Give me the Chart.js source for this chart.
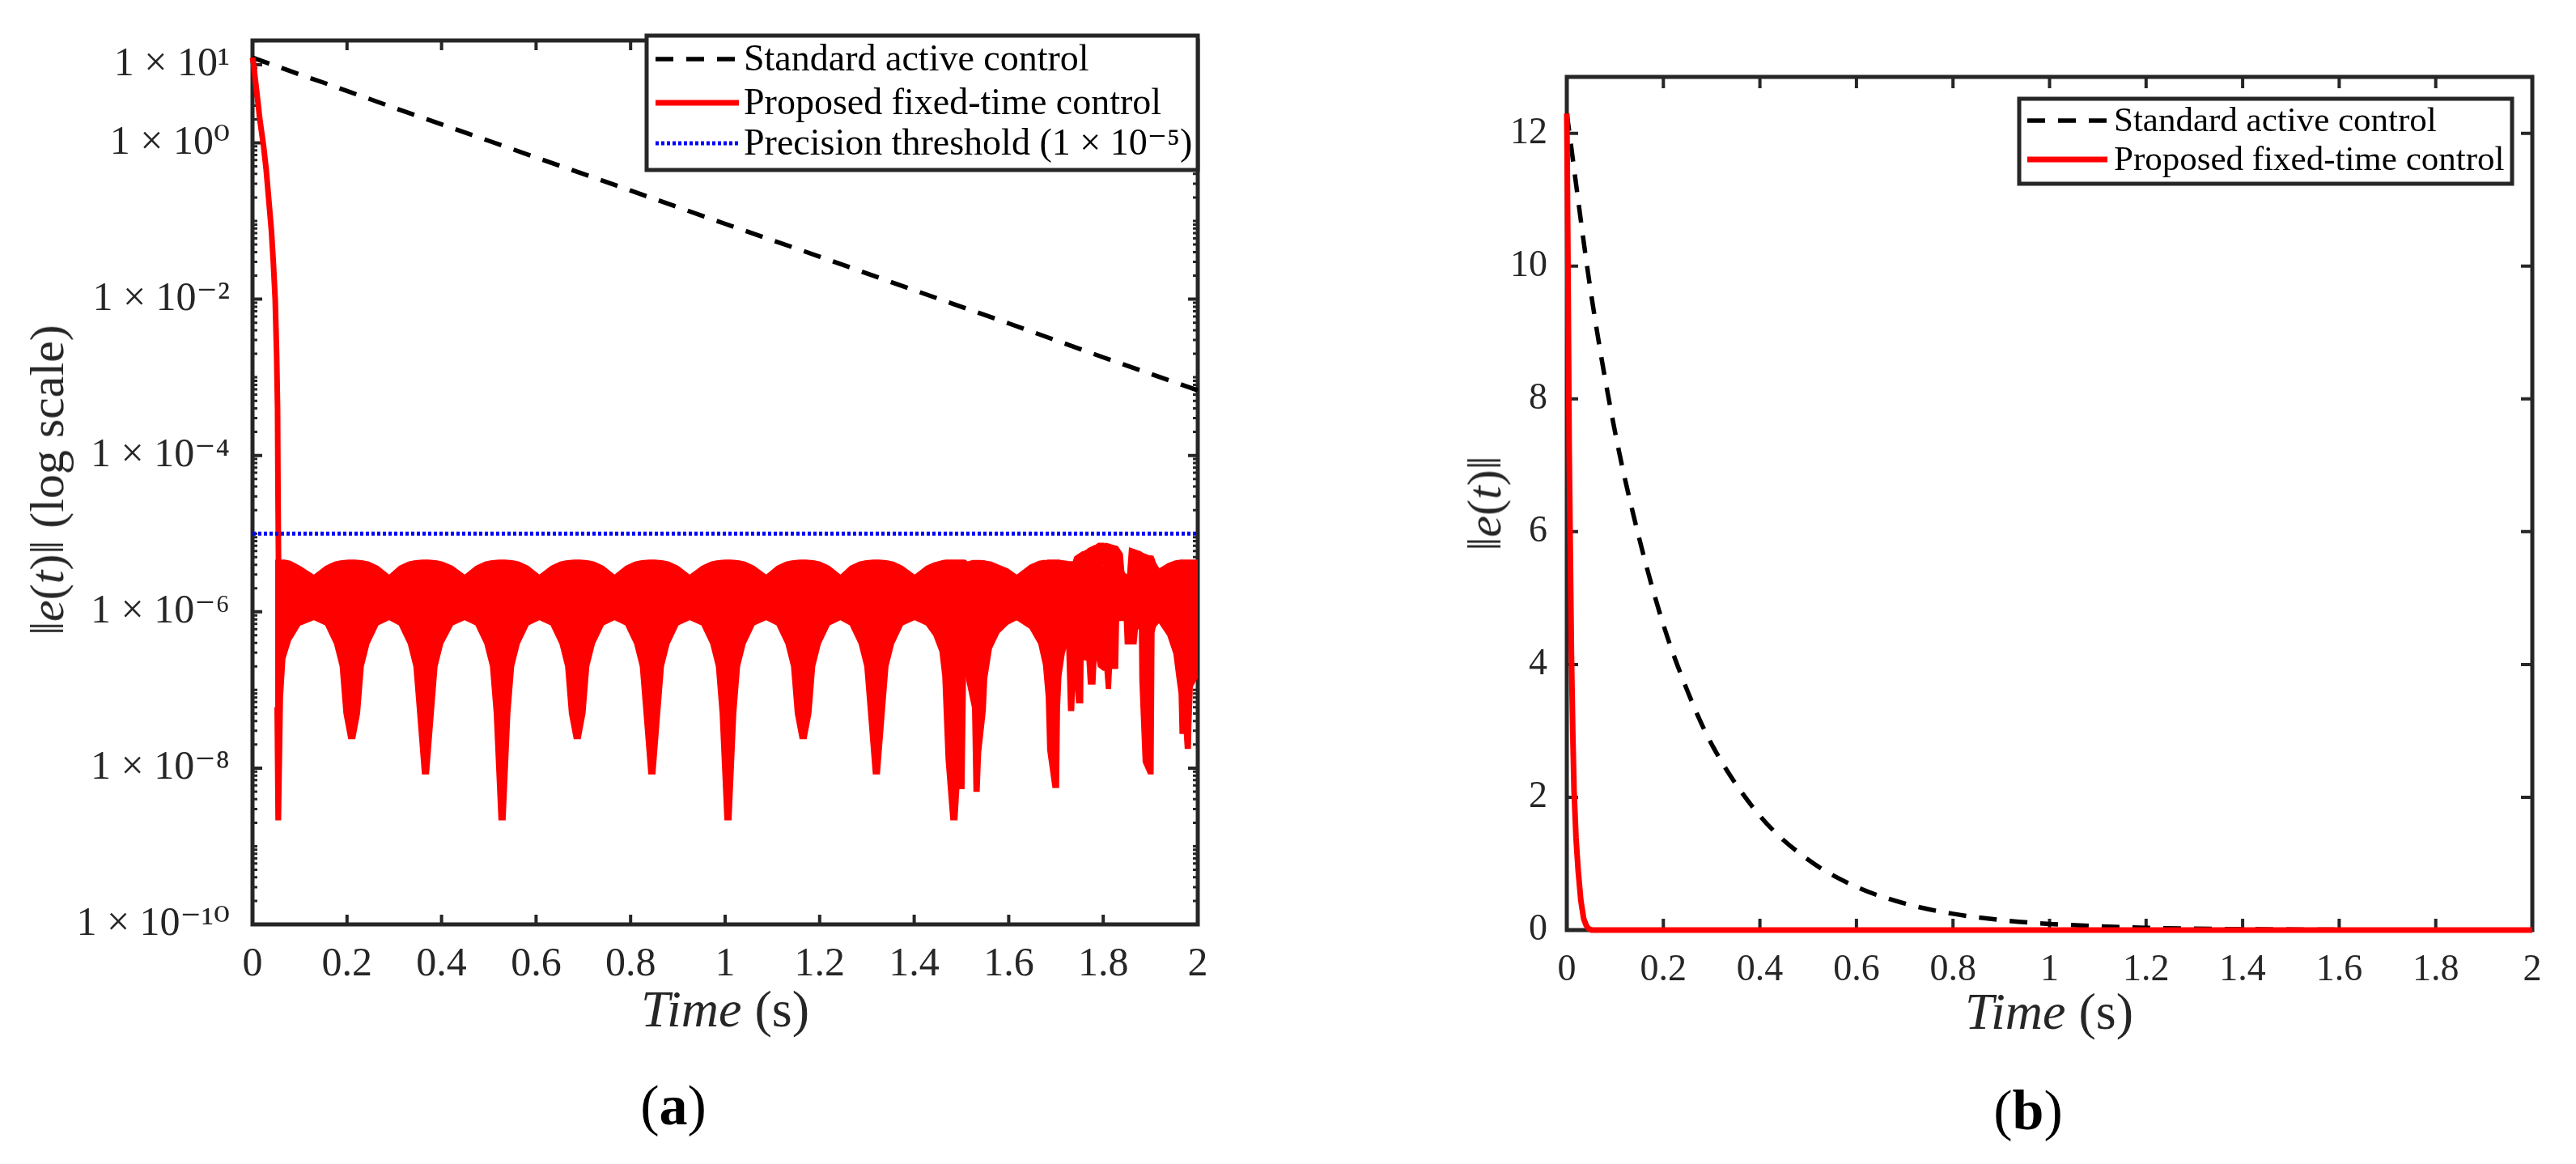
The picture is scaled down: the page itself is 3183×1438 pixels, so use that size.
<!DOCTYPE html>
<html>
<head>
<meta charset="utf-8">
<script src="https://cdn.jsdelivr.net/npm/chart.js@4.4.1/dist/chart.umd.min.js"></script>
<style>
  body { margin: 0; background: #fff; }
  #page { position: relative; width: 3183px; height: 1438px; overflow: hidden; background: #fff; }
  canvas { position: absolute; top: 0; }
  .lbl { position: absolute; transform: translate(-50%, -50%); font-family: 'Liberation Serif', 'DejaVu Serif', serif; color: #262626; white-space: nowrap; line-height: 1; }
  .rot { transform: translate(-50%, -50%) rotate(-90deg); }
  .cap { color: #000; font-size: 70px; }
</style>
</head>
<body>
<div id="page">
  <canvas id="left" width="1600" height="1438" style="left:0"></canvas>
  <canvas id="right" width="1583" height="1438" style="left:1600px"></canvas>

  <div class="lbl rot" style="left:58px; top:593px; font-size:60px;">‖<i>e</i>(<i>t</i>)‖ (log scale)</div>
  <div class="lbl" style="left:896px; top:1247px; font-size:64px;"><i>Time</i> (s)</div>
  <div class="lbl cap" style="left:832px; top:1366px;">(<b>a</b>)</div>

  <div class="lbl rot" style="left:1834px; top:622px; font-size:60px;">‖<i>e</i>(<i>t</i>)‖</div>
  <div class="lbl" style="left:2532px; top:1250px; font-size:64px;"><i>Time</i> (s)</div>
  <div class="lbl cap" style="left:2506px; top:1372px;">(<b>b</b>)</div>
</div>
<script>
// tick values and labels
const xTickValues = [0, 0.2, 0.4, 0.6, 0.8, 1, 1.2, 1.4, 1.6, 1.8, 2];
const xTickLabels = ['0', '0.2', '0.4', '0.6', '0.8', '1', '1.2', '1.4', '1.6', '1.8', '2'];
const logTickValues = [1e1, 1e0, 1e-2, 1e-4, 1e-6, 1e-8, 1e-10];
const logTickLabels = ['1 × 10¹', '1 × 10⁰', '1 × 10⁻²', '1 × 10⁻⁴', '1 × 10⁻⁶', '1 × 10⁻⁸', '1 × 10⁻¹⁰'];
const linTickValues = [0, 2, 4, 6, 8, 10, 12];
const linTickLabels = ['0', '2', '4', '6', '8', '10', '12'];

// standard active control
const timeStd = [0, 0.05, 0.1, 0.15, 0.2, 0.25, 0.3, 0.4, 0.5, 0.6, 0.7, 0.8, 0.9, 1.0, 1.2, 1.4, 1.6, 1.8, 2.0];
const errStd = [12.3, 9.6, 7.5, 5.9, 4.6, 3.6, 2.8, 1.72, 1.06, 0.65, 0.40, 0.245, 0.15, 0.092, 0.035, 0.013, 0.0049, 0.0018, 0.00068];

// proposed fixed-time control, initial drop
const timeDecay = [0, 0.002, 0.005, 0.0095, 0.0123, 0.015, 0.019, 0.0235, 0.029, 0.035, 0.04, 0.044, 0.048, 0.051, 0.053, 0.054, 0.055];
const errDecay = [12.3, 10.5, 7.2, 4.2, 3.0, 2.1, 1.4, 0.9, 0.45, 0.17, 0.075, 0.03, 0.01, 0.002, 4e-4, 3e-5, 4.5e-6];

// proposed fixed-time control, residual chattering band (upper / lower envelope)
const timeBand = [
  0.048, 0.050, 0.059, 0.063, 0.068, 0.080, 0.100, 0.130,
  0.155, 0.174, 0.186, 0.194, 0.204, 0.216, 0.226, 0.234, 0.246, 0.265, 0.289,
  0.311, 0.330, 0.342, 0.350, 0.360, 0.372, 0.382, 0.390, 0.402, 0.423, 0.449,
  0.473, 0.492, 0.504, 0.512, 0.522, 0.534, 0.544, 0.552, 0.564, 0.583, 0.607,
  0.632, 0.651, 0.663, 0.671, 0.681, 0.693, 0.703, 0.711, 0.723, 0.742, 0.766,
  0.790, 0.809, 0.821, 0.829, 0.839, 0.851, 0.861, 0.869, 0.881, 0.900, 0.925,
  0.951, 0.970, 0.982, 0.990, 1.000, 1.012, 1.022, 1.030, 1.042, 1.061, 1.087,
  1.110, 1.129, 1.141, 1.149, 1.159, 1.171, 1.181, 1.189, 1.201, 1.220, 1.244,
  1.265, 1.284, 1.296, 1.304, 1.314, 1.326, 1.336, 1.344, 1.356, 1.375, 1.401,
  1.426, 1.442, 1.455, 1.461, 1.468, 1.478, 1.490, 1.494, 1.505, 1.509, 1.512, 1.524, 1.527, 1.537, 1.540, 1.550, 1.553, 1.563, 1.579, 1.598, 1.617,
  1.645, 1.664, 1.674, 1.680, 1.683, 1.694, 1.705, 1.707, 1.710, 1.717, 1.723, 1.727, 1.737, 1.740, 1.744, 1.756, 1.758, 1.760, 1.766, 1.769,
  1.782, 1.785, 1.790, 1.800, 1.801, 1.804, 1.807, 1.815, 1.817, 1.830, 1.832, 1.840, 1.843, 1.845, 1.847, 1.852, 1.856, 1.869, 1.872, 1.877,
  1.878, 1.885, 1.896, 1.905, 1.907, 1.910, 1.918,
  1.937, 1.950, 1.956, 1.961, 1.963, 1.972, 1.974, 1.984, 1.985, 1.988, 2.000
];
const bandHigh = [
  4.5e-6, 4.56e-6, 4.56e-6, 4.56e-6, 4.56e-6, 4.4e-6, 3.8e-6, 2.9e-6,
  3.8e-6, 4.3e-6, 4.45e-6, 4.5e-6, 4.56e-6, 4.56e-6, 4.5e-6, 4.45e-6, 4.3e-6, 3.8e-6, 2.9e-6,
  3.8e-6, 4.3e-6, 4.45e-6, 4.5e-6, 4.56e-6, 4.56e-6, 4.5e-6, 4.45e-6, 4.3e-6, 3.8e-6, 2.9e-6,
  3.8e-6, 4.3e-6, 4.45e-6, 4.5e-6, 4.56e-6, 4.56e-6, 4.5e-6, 4.45e-6, 4.3e-6, 3.8e-6, 2.9e-6,
  3.8e-6, 4.3e-6, 4.45e-6, 4.5e-6, 4.56e-6, 4.56e-6, 4.5e-6, 4.45e-6, 4.3e-6, 3.8e-6, 2.9e-6,
  3.8e-6, 4.3e-6, 4.45e-6, 4.5e-6, 4.56e-6, 4.56e-6, 4.5e-6, 4.45e-6, 4.3e-6, 3.8e-6, 2.9e-6,
  3.8e-6, 4.3e-6, 4.45e-6, 4.5e-6, 4.56e-6, 4.56e-6, 4.5e-6, 4.45e-6, 4.3e-6, 3.8e-6, 2.9e-6,
  3.8e-6, 4.3e-6, 4.45e-6, 4.5e-6, 4.56e-6, 4.56e-6, 4.5e-6, 4.45e-6, 4.3e-6, 3.8e-6, 2.9e-6,
  3.8e-6, 4.3e-6, 4.45e-6, 4.5e-6, 4.56e-6, 4.56e-6, 4.5e-6, 4.45e-6, 4.3e-6, 3.8e-6, 2.9e-6,
  3.8e-6, 4.2e-6, 4.4e-6, 4.5e-6, 4.56e-6, 4.56e-6, 4.56e-6, 4.56e-6, 4.56e-6, 4.5e-6, 4.3e-6, 4.5e-6, 4.5e-6, 4.5e-6, 4.5e-6, 4.45e-6, 4.4e-6, 4.3e-6, 3.9e-6, 3.5e-6, 2.9e-6,
  3.9e-6, 4.4e-6, 4.5e-6, 4.5e-6, 4.55e-6, 4.56e-6, 4.56e-6, 4.56e-6, 4.5e-6, 4.45e-6, 4.4e-6, 4.35e-6, 4.35e-6, 5.0e-6, 5.2e-6, 5.8e-6, 5.8e-6, 5.9e-6, 6.2e-6, 6.4e-6,
  7.0e-6, 7.1e-6, 7.45e-6, 7.45e-6, 3.9e-6, 7.45e-6, 7.4e-6, 7.2e-6, 7.1e-6, 6.8e-6, 6.5e-6, 5.5e-6, 3.3e-6, 3.1e-6, 3.0e-6, 3.0e-6, 6.5e-6, 6.1e-6, 6.0e-6, 5.9e-6,
  5.9e-6, 5.5e-6, 5.2e-6, 5.1e-6, 4.8e-6, 4.2e-6, 3.5e-6,
  4.1e-6, 4.4e-6, 4.5e-6, 4.5e-6, 4.55e-6, 4.56e-6, 4.56e-6, 4.56e-6, 4.56e-6, 4.56e-6, 4.56e-6
];
const bandLow = [
  6e-8, 2.2e-9, 2.2e-9, 8e-8, 2.5e-7, 4.3e-7, 6.8e-7, 8.0e-7,
  6.8e-7, 3.9e-7, 2.0e-7, 5e-8, 2.4e-8, 2.4e-8, 5e-8, 2.0e-7, 3.9e-7, 6.8e-7, 8.0e-7,
  6.8e-7, 3.9e-7, 2.0e-7, 5e-8, 8.5e-9, 8.5e-9, 5e-8, 2.0e-7, 3.9e-7, 6.8e-7, 8.0e-7,
  6.8e-7, 3.9e-7, 2.0e-7, 5e-8, 2.2e-9, 2.2e-9, 5e-8, 2.0e-7, 3.9e-7, 6.8e-7, 8.0e-7,
  6.8e-7, 3.9e-7, 2.0e-7, 5e-8, 2.4e-8, 2.4e-8, 5e-8, 2.0e-7, 3.9e-7, 6.8e-7, 8.0e-7,
  6.8e-7, 3.9e-7, 2.0e-7, 5e-8, 8.5e-9, 8.5e-9, 5e-8, 2.0e-7, 3.9e-7, 6.8e-7, 8.0e-7,
  6.8e-7, 3.9e-7, 2.0e-7, 5e-8, 2.2e-9, 2.2e-9, 5e-8, 2.0e-7, 3.9e-7, 6.8e-7, 8.0e-7,
  6.8e-7, 3.9e-7, 2.0e-7, 5e-8, 2.4e-8, 2.4e-8, 5e-8, 2.0e-7, 3.9e-7, 6.8e-7, 8.0e-7,
  6.8e-7, 3.9e-7, 2.0e-7, 5e-8, 8.5e-9, 8.5e-9, 5e-8, 2.0e-7, 3.9e-7, 6.8e-7, 8.0e-7,
  6.8e-7, 5.0e-7, 3.1e-7, 1.5e-7, 1.3e-8, 2.2e-9, 2.2e-9, 5.5e-9, 5.5e-9, 3.9e-7, 1.3e-7, 5.9e-8, 5.1e-9, 5.1e-9, 1.55e-8, 5.5e-8, 1.4e-7, 3.4e-7, 5.4e-7, 7.0e-7, 8.0e-7,
  6.2e-7, 3.9e-7, 2.1e-7, 8e-8, 1.7e-8, 5.7e-9, 5.7e-9, 5.9e-8, 1.5e-7, 2.9e-7, 4.0e-7, 5.5e-8, 5.5e-8, 1.55e-7, 6.9e-8, 6.9e-8, 1.4e-6, 2.45e-7, 2.4e-7, 1.2e-7,
  1.2e-7, 3.0e-7, 2.0e-7, 1.8e-7, 1.8e-7, 1.8e-7, 1.05e-7, 1.05e-7, 1.9e-7, 1.9e-7, 7.8e-7, 7.8e-7, 7.8e-7, 7.8e-7, 3.9e-7, 3.9e-7, 3.9e-7, 3.9e-7, 6.1e-7, 6.1e-7,
  1.35e-7, 1.2e-8, 8.5e-9, 8.5e-9, 5.4e-7, 6.5e-7, 7.4e-7,
  5.0e-7, 2.9e-7, 1.5e-7, 9e-8, 2.8e-8, 2.8e-8, 1.8e-8, 1.8e-8, 3.6e-8, 1.1e-7, 1.5e-7
];

const timeSpan = [0, 2];
const thresholdValue = [1e-5, 1e-5];

const pts = (xs, ys) => xs.map((x, i) => ({ x: x, y: ys[i] }));

// red line for panel (b): initial drop, then the (near zero) band top
const lastDecay = timeDecay[timeDecay.length - 1];
const tailIdx = timeBand.map((t, i) => i).filter(i => timeBand[i] > lastDecay);
const timeRed = timeDecay.concat(tailIdx.map(i => timeBand[i]));
const errRed = errDecay.concat(tailIdx.map(i => bandHigh[i]));

const ink = '#262626';
const serif = "'Liberation Serif', 'DejaVu Serif', serif";

// box + inward ticks, MATLAB style
const frame = {
    id: 'frame',
    beforeDatasetsDraw(chart, args, o) {
        const { ctx, chartArea: a } = chart;
        const x = chart.scales.x, y = chart.scales.y;
        ctx.save();
        ctx.strokeStyle = ink;
        ctx.lineWidth = 4;
        ctx.beginPath();
        x.ticks.forEach(t => {
            const p = x.getPixelForValue(t.value);
            ctx.moveTo(p, a.bottom); ctx.lineTo(p, a.bottom - o.major);
            ctx.moveTo(p, a.top); ctx.lineTo(p, a.top + o.major);
        });
        y.ticks.forEach(t => {
            const p = y.getPixelForValue(t.value);
            ctx.moveTo(a.left, p); ctx.lineTo(a.left + o.major, p);
            ctx.moveTo(a.right, p); ctx.lineTo(a.right - o.major, p);
        });
        ctx.stroke();
        if (o.logMinor) {
            ctx.lineWidth = 3;
            ctx.beginPath();
            for (let n = -10; n <= 1; n++) {
                for (let m = 1; m <= 9; m++) {
                    const v = m * Math.pow(10, n);
                    if (v > y.max || v < y.min) continue;
                    if (logTickValues.some(t => Math.abs(t - v) < v * 1e-6)) continue;
                    const p = y.getPixelForValue(v);
                    ctx.moveTo(a.left, p); ctx.lineTo(a.left + o.minor, p);
                    ctx.moveTo(a.right, p); ctx.lineTo(a.right - o.minor, p);
                }
            }
            ctx.stroke();
        }
        ctx.lineWidth = 5;
        ctx.strokeRect(a.left, a.top, a.width, a.height);
        ctx.restore();
    }
};

// legend box drawn inside the axes
const boxLegend = {
    id: 'boxLegend',
    afterDatasetsDraw(chart, args, o) {
        const ctx = chart.ctx;
        const b = o.box;
        ctx.save();
        ctx.fillStyle = '#fff';
        ctx.fillRect(b[0], b[1], b[2] - b[0], b[3] - b[1]);
        ctx.lineWidth = 5;
        ctx.strokeStyle = ink;
        ctx.strokeRect(b[0], b[1], b[2] - b[0], b[3] - b[1]);
        o.items.forEach((idx, i) => {
            const ds = chart.data.datasets[idx];
            const yy = o.rows[i];
            ctx.beginPath();
            ctx.strokeStyle = ds.borderColor;
            ctx.lineWidth = ds.borderWidth;
            ctx.setLineDash(ds.borderDash || []);
            ctx.moveTo(o.sample[0], yy);
            ctx.lineTo(o.sample[1], yy);
            ctx.stroke();
            ctx.setLineDash([]);
            ctx.fillStyle = '#000';
            ctx.font = o.font;
            ctx.textBaseline = 'middle';
            ctx.fillText(ds.label, o.textX, yy + 2);
        });
        ctx.restore();
    }
};

// (a) log-scale error norm
const ctx1 = document.getElementById('left').getContext('2d');
const chart1 = new Chart(ctx1, {
    type: 'line',
    data: {
        datasets: [{
            label: 'Standard active control',
            data: pts(timeStd, errStd),
            borderColor: '#000000',
            borderWidth: 5.5,
            borderDash: [22, 16],
            pointRadius: 0,
            order: 4
        }, {
            label: 'Proposed fixed-time control',
            data: pts(timeDecay, errDecay),
            borderColor: '#ff0000',
            borderWidth: 7,
            pointRadius: 0,
            order: 2
        }, {
            label: 'band top',
            data: pts(timeBand, bandHigh),
            borderColor: '#ff0000',
            borderWidth: 2,
            pointRadius: 0,
            order: 3
        }, {
            label: 'band bottom',
            data: pts(timeBand, bandLow),
            borderColor: '#ff0000',
            backgroundColor: '#ff0000',
            borderWidth: 2,
            pointRadius: 0,
            fill: '-1',
            order: 3
        }, {
            label: 'Precision threshold (1 × 10⁻⁵)',
            data: pts(timeSpan, thresholdValue),
            borderColor: '#0000ff',
            borderWidth: 5,
            borderDash: [4, 3],
            pointRadius: 0,
            order: 1
        }]
    },
    options: {
        responsive: false,
        animation: false,
        devicePixelRatio: 1,
        clip: false,
        layout: { padding: { left: 0, top: 44, right: 120, bottom: 0 } },
        scales: {
            x: {
                type: 'linear', min: 0, max: 2,
                grid: { display: false }, border: { display: false },
                afterBuildTicks: s => { s.ticks = xTickValues.map(v => ({ value: v })); },
                afterFit: s => { s.height = 296; },
                ticks: { autoSkip: false, maxRotation: 0, padding: 12, color: ink, font: { family: serif, size: 50 },
                         callback: (v, i) => xTickLabels[i] }
            },
            y: {
                type: 'logarithmic', min: 1e-10, max: 20.4, bounds: 'data',
                grid: { display: false }, border: { display: false },
                afterBuildTicks: s => { s.ticks = logTickValues.map(v => ({ value: v })); },
                afterFit: s => { s.width = 312; },
                ticks: { autoSkip: false, padding: 20, color: ink, font: { family: serif, size: 50 },
                         callback: (v, i) => logTickLabels[i] }
            }
        },
        plugins: {
            legend: { display: false },
            tooltip: { enabled: false },
            frame: { major: 12, minor: 6, logMinor: true },
            boxLegend: {
                box: [799, 44, 1480, 210],
                rows: [73, 127, 177],
                sample: [810, 913],
                textX: 919,
                font: '46px ' + serif,
                items: [0, 1, 4]
            }
        }
    },
    plugins: [frame, boxLegend]
});

// (b) linear error norm
const ctx2 = document.getElementById('right').getContext('2d');
const chart2 = new Chart(ctx2, {
    type: 'line',
    data: {
        datasets: [{
            label: 'Standard active control',
            data: pts(timeStd, errStd),
            borderColor: '#000000',
            borderWidth: 5.5,
            borderDash: [22, 16],
            pointRadius: 0,
            cubicInterpolationMode: 'monotone',
            order: 2
        }, {
            label: 'Proposed fixed-time control',
            data: pts(timeRed, errRed),
            borderColor: '#ff0000',
            borderWidth: 7,
            pointRadius: 0,
            order: 1
        }]
    },
    options: {
        responsive: false,
        animation: false,
        devicePixelRatio: 1,
        clip: false,
        layout: { padding: { left: 0, top: 95, right: 54, bottom: 0 } },
        scales: {
            x: {
                type: 'linear', min: 0, max: 2,
                grid: { display: false }, border: { display: false },
                afterBuildTicks: s => { s.ticks = xTickValues.map(v => ({ value: v })); },
                afterFit: s => { s.height = 289; },
                ticks: { autoSkip: false, maxRotation: 0, padding: 14, color: ink, font: { family: serif, size: 46 },
                         callback: (v, i) => xTickLabels[i] }
            },
            y: {
                type: 'linear', min: 0, max: 12.85, bounds: 'data',
                grid: { display: false }, border: { display: false },
                afterBuildTicks: s => { s.ticks = linTickValues.map(v => ({ value: v })); },
                afterFit: s => { s.width = 336; },
                ticks: { autoSkip: false, padding: 16, color: ink, font: { family: serif, size: 46 },
                         callback: (v, i) => linTickLabels[i] }
            }
        },
        plugins: {
            legend: { display: false },
            tooltip: { enabled: false },
            frame: { major: 14, minor: 0, logMinor: false },
            boxLegend: {
                box: [895, 122, 1504, 227],
                rows: [149, 197],
                sample: [905, 1004],
                textX: 1012,
                font: '43px ' + serif,
                items: [0, 1]
            }
        }
    },
    plugins: [frame, boxLegend]
});
</script>
</body>
</html>
